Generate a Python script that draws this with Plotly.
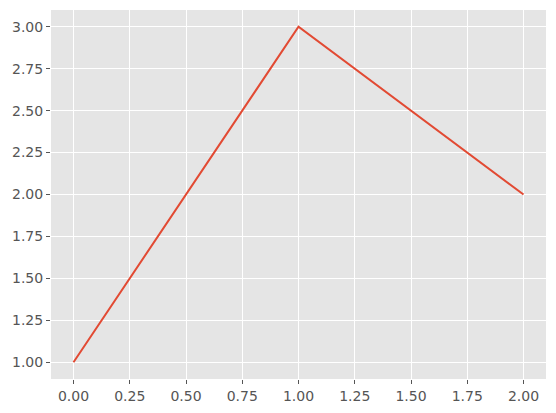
import plotly.graph_objects as go

x_vals = [0, 1, 2]
y_vals = [1, 3, 2]

x_ticks = [0, 0.25, 0.5, 0.75, 1.0, 1.25, 1.5, 1.75, 2.0]
y_ticks = [1.0, 1.25, 1.5, 1.75, 2.0, 2.25, 2.5, 2.75, 3.0]

fig = go.Figure(go.Scatter(
    x=x_vals, y=y_vals, mode="lines",
    line=dict(color="#E24A33", width=2),
))

axis_style = dict(
    showgrid=True, gridcolor="white", gridwidth=1,
    zeroline=False, showline=False,
    ticks="outside", ticklen=4, tickcolor="#555555", tickwidth=1,
    tickfont=dict(family="DejaVu Sans", size=14, color="#555555"),
)

# page body has an 8px margin, so the margins are shifted to compensate
fig.update_layout(
    width=556, height=413,
    paper_bgcolor="white", plot_bgcolor="#E5E5E5",
    margin=dict(l=43, r=18, t=2, b=42),
    showlegend=False,
    xaxis=dict(range=[-0.1, 2.1], tickvals=x_ticks,
               ticktext=[f"{v:.2f}" for v in x_ticks], **axis_style),
    yaxis=dict(range=[0.9, 3.1], tickvals=y_ticks,
               ticktext=[f"{v:.2f}" for v in y_ticks], **axis_style),
)

fig.write_html("out.html")
